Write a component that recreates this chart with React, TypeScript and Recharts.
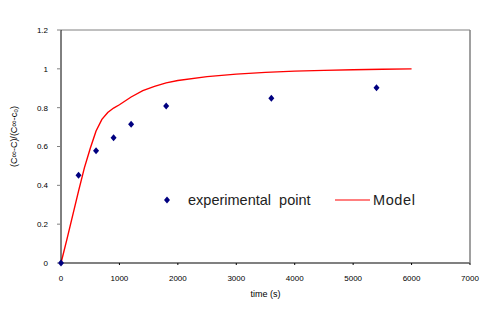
import { ComposedChart, Line, Scatter, XAxis, YAxis, ReferenceLine, Label } from 'recharts'

// experimental points
const expTime = [0, 300, 600, 900, 1200, 1800, 3600, 5400]
const expValue = [0, 0.452, 0.578, 0.645, 0.715, 0.808, 0.848, 0.902]

// model curve
const modelTime = [0, 100, 200, 300, 400, 500, 600, 700, 800, 900, 1000, 1200, 1400, 1600, 1800, 2000, 2500, 3000, 3500, 4000, 4500, 5000, 5500, 6000]
const modelValue = [0, 0.12, 0.245, 0.37, 0.49, 0.59, 0.68, 0.74, 0.775, 0.798, 0.815, 0.855, 0.888, 0.91, 0.928, 0.94, 0.96, 0.973, 0.982, 0.988, 0.992, 0.995, 0.998, 1.0]

const xTicks = [0, 1000, 2000, 3000, 4000, 5000, 6000, 7000]
const yTicks = [0, 0.2, 0.4, 0.6, 0.8, 1, 1.2]

const expData = expTime.map((t, i) => ({ t, v: expValue[i] }))
const modelData = modelTime.map((t, i) => ({ t, v: modelValue[i] }))

const font = 'Liberation Sans, Arial, sans-serif'
const tickStyle = { fontSize: 8, fill: '#000', fontFamily: font }

function Diamond(props: any) {
  const { cx, cy } = props
  if (cx == null || cy == null) return null
  return <polygon points={`${cx},${cy - 3.5} ${cx + 3},${cy} ${cx},${cy + 3.5} ${cx - 3},${cy}`} fill="#000080" />
}

// legend sits inside the plot, like the Excel original
function LegendBox() {
  return (
    <svg width={270} height={24} style={{ position: 'absolute', left: 160, top: 188, overflow: 'visible' }}>
      <polygon points="7,8.5 10,12 7,15.5 4,12" fill="#000080" />
      <text x={28} y={17} fontSize={14.5} fill="#222" fontFamily={font} style={{ whiteSpace: 'pre' }}>
        {'experimental  point'}
      </text>
      <line x1={175} y1={12} x2={210} y2={12} stroke="#ff0000" strokeWidth={1.2} />
      <text x={213} y={17} fontSize={14.5} fill="#222" letterSpacing={0.6} fontFamily={font}>
        Model
      </text>
    </svg>
  )
}

export default function App() {
  return (
    <div style={{ position: 'absolute', left: 0, top: 0, width: 500, height: 319, background: '#fff' }}>
      <ComposedChart width={500} height={319} margin={{ top: 30, right: 30, left: 0, bottom: 0 }}>
        <XAxis
          dataKey="t"
          type="number"
          domain={[0, 7000]}
          ticks={xTicks}
          allowDuplicatedCategory={false}
          height={56}
          stroke="#808080"
          strokeWidth={2}
          tickSize={2}
          tickMargin={10}
          tick={tickStyle}
          tickLine={{ stroke: '#000', strokeWidth: 1 }}
        >
          <Label value="time (s)" position="insideTop" offset={28} style={{ fontSize: 9, fill: '#000', fontFamily: font }} />
        </XAxis>
        <YAxis
          dataKey="v"
          type="number"
          domain={[0, 1.2]}
          ticks={yTicks}
          width={61}
          stroke="#000"
          tickSize={4}
          tickMargin={9}
          tick={tickStyle}
          tickLine={{ stroke: '#808080' }}
        >
          <Label
            value="(C∞-C)/(C∞-c₀)"
            angle={-90}
            position="insideLeft"
            offset={14}
            dy={-10}
            style={{ fontSize: 9, fill: '#000', fontFamily: font, textAnchor: 'middle' }}
          />
        </YAxis>
        <ReferenceLine y={1.2} stroke="#808080" strokeWidth={1} />
        <ReferenceLine x={7000} stroke="#808080" strokeWidth={1.5} />
        <Line data={modelData} dataKey="v" stroke="#ff0000" strokeWidth={1.4} dot={false} isAnimationActive={false} />
        <Scatter data={expData} dataKey="v" shape={Diamond} isAnimationActive={false} />
      </ComposedChart>
      <LegendBox />
    </div>
  )
}
